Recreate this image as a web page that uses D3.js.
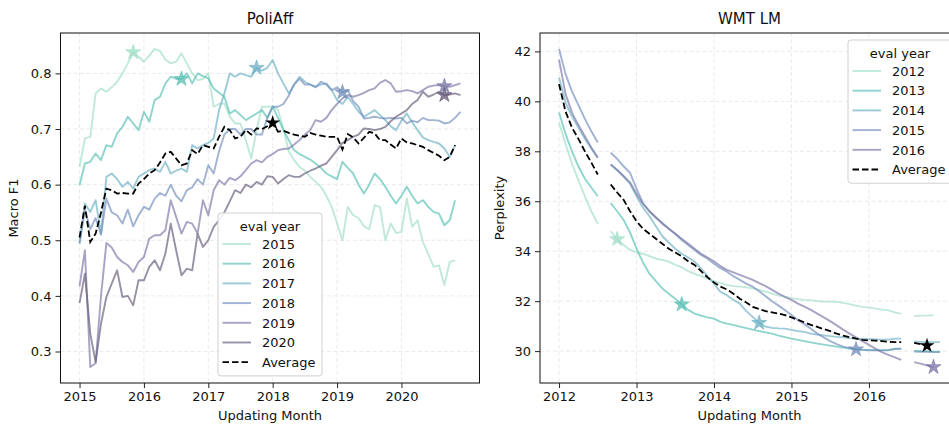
<!DOCTYPE html>
<html>
<head>
<meta charset="utf-8">
<script src="https://cdn.jsdelivr.net/npm/d3@7"></script>
<style>
	body { margin: 0; background: #fff; }
	svg { display: block; font-family: "DejaVu Sans", sans-serif; }
</style>
</head>
<body>
<div id="chart"></div>
<script>
// ---- PoliAff: macro F1 per updating month, Jan 2015 .. Dec 2020 ----
const poliStart = 2015;
const poliYears = ["2015", "2016", "2017", "2018", "2019", "2020"];
const poliTicks = [2015, 2016, 2017, 2018, 2019, 2020];
const poliYTicks = [0.3, 0.4, 0.5, 0.6, 0.7, 0.8];

const f1_2015 = [
	0.632, 0.683, 0.686, 0.764, 0.773, 0.767, 0.775, 0.785, 0.800, 0.818, 0.838, 0.830,
	0.821, 0.832, 0.844, 0.840, 0.825, 0.818, 0.821, 0.836, 0.818, 0.800, 0.788, 0.790,
	0.800, 0.740, 0.745, 0.746, 0.722, 0.710, 0.710, 0.680, 0.647, 0.698, 0.740, 0.740,
	0.741, 0.734, 0.700, 0.660, 0.644, 0.632, 0.625, 0.614, 0.605, 0.596, 0.580, 0.560,
	0.530, 0.500, 0.560, 0.545, 0.540, 0.525, 0.520, 0.563, 0.560, 0.500, 0.530, 0.513,
	0.515, 0.575, 0.524, 0.536, 0.497, 0.475, 0.452, 0.455, 0.419, 0.461, 0.464, null];
const f1_2016 = [
	0.599, 0.638, 0.641, 0.656, 0.644, 0.671, 0.668, 0.692, 0.704, 0.722, 0.710, 0.698,
	0.731, 0.713, 0.752, 0.758, 0.782, 0.794, 0.790, 0.790, 0.800, 0.782, 0.800, 0.795,
	0.791, 0.773, 0.765, 0.758, 0.728, 0.734, 0.725, 0.716, 0.722, 0.728, 0.734, 0.720,
	0.740, 0.720, 0.698, 0.680, 0.662, 0.655, 0.650, 0.645, 0.638, 0.630, 0.620, 0.615,
	0.610, 0.641, 0.630, 0.620, 0.600, 0.584, 0.600, 0.620, 0.610, 0.596, 0.580, 0.566,
	0.580, 0.596, 0.580, 0.566, 0.572, 0.560, 0.551, 0.548, 0.527, 0.536, 0.572, null];
const f1_2017 = [
	0.494, 0.566, 0.551, 0.572, 0.512, 0.614, 0.620, 0.610, 0.596, 0.605, 0.593, 0.614,
	0.620, 0.626, 0.629, 0.623, 0.641, 0.620, 0.625, 0.629, 0.623, 0.671, 0.665, 0.671,
	0.675, 0.683, 0.734, 0.764, 0.800, 0.794, 0.800, 0.797, 0.794, 0.810, 0.805, 0.810,
	0.824, 0.800, 0.782, 0.764, 0.780, 0.794, 0.785, 0.780, 0.776, 0.780, 0.782, 0.770,
	0.752, 0.745, 0.758, 0.745, 0.731, 0.722, 0.728, 0.734, 0.725, 0.716, 0.705, 0.698,
	0.715, 0.728, 0.712, 0.698, 0.685, 0.680, 0.677, 0.674, 0.665, 0.650, 0.671, null];
const f1_2018 = [
	0.495, 0.555, 0.520, 0.540, 0.510, 0.575, 0.550, 0.545, 0.530, 0.555, 0.525, 0.545,
	0.560, 0.555, 0.575, 0.585, 0.580, 0.600, 0.580, 0.570, 0.590, 0.595, 0.610, 0.600,
	0.635, 0.620, 0.660, 0.690, 0.700, 0.700, 0.690, 0.700, 0.700, 0.690, 0.690, 0.720,
	0.740, 0.740, 0.745, 0.760, 0.780, 0.790, 0.780, 0.780, 0.775, 0.785, 0.780, 0.770,
	0.775, 0.766, 0.770, 0.750, 0.740, 0.719, 0.720, 0.722, 0.720, 0.719, 0.720, 0.719,
	0.720, 0.710, 0.715, 0.712, 0.720, 0.716, 0.716, 0.715, 0.710, 0.712, 0.720, 0.731];
const f1_2019 = [
	0.417, 0.482, 0.272, 0.279, 0.400, 0.495, 0.487, 0.470, 0.461, 0.455, 0.443, 0.461,
	0.470, 0.503, 0.509, 0.509, 0.518, 0.572, 0.542, 0.512, 0.533, 0.530, 0.512, 0.572,
	0.545, 0.590, 0.608, 0.600, 0.612, 0.608, 0.615, 0.626, 0.638, 0.644, 0.640, 0.650,
	0.655, 0.662, 0.664, 0.665, 0.672, 0.680, 0.690, 0.698, 0.716, 0.713, 0.720, 0.734,
	0.745, 0.755, 0.761, 0.758, 0.761, 0.765, 0.770, 0.773, 0.783, 0.788, 0.782, 0.767,
	0.768, 0.770, 0.768, 0.764, 0.770, 0.776, 0.778, 0.779, 0.777, 0.776, 0.779, 0.782];
const f1_2020 = [
	0.387, 0.440, 0.332, 0.281, 0.350, 0.398, 0.422, 0.446, 0.398, 0.400, 0.383, 0.428,
	0.428, 0.452, 0.464, 0.446, 0.476, 0.530, 0.482, 0.437, 0.449, 0.446, 0.512, 0.488,
	0.500, 0.524, 0.536, 0.550, 0.570, 0.590, 0.585, 0.600, 0.595, 0.605, 0.600, 0.615,
	0.614, 0.602, 0.610, 0.617, 0.614, 0.614, 0.620, 0.625, 0.629, 0.634, 0.638, 0.650,
	0.662, 0.675, 0.680, 0.686, 0.690, 0.701, 0.700, 0.698, 0.700, 0.704, 0.714, 0.722,
	0.728, 0.734, 0.745, 0.752, 0.767, 0.758, 0.762, 0.767, 0.761, 0.762, 0.764, 0.761];
const f1_avg = [
	0.505, 0.562, 0.497, 0.512, 0.550, 0.593, 0.590, 0.584, 0.585, 0.584, 0.584, 0.602,
	0.610, 0.620, 0.626, 0.640, 0.656, 0.659, 0.647, 0.635, 0.638, 0.662, 0.655, 0.671,
	0.668, 0.665, 0.686, 0.704, 0.698, 0.683, 0.686, 0.698, 0.690, 0.701, 0.700, 0.705,
	0.711, 0.695, 0.697, 0.693, 0.690, 0.688, 0.686, 0.693, 0.690, 0.688, 0.686, 0.686,
	0.686, 0.663, 0.691, 0.685, 0.674, 0.684, 0.695, 0.692, 0.680, 0.680, 0.672, 0.665,
	0.683, 0.676, 0.674, 0.671, 0.668, 0.662, 0.657, 0.652, 0.644, 0.650, 0.671, null];
// month index of the starred point in each series (last one = Average)
const poliStars = [10, 19, 33, 49, 68, 68, 36];

// ---- WMT LM: perplexity per updating month, Jan 2012 .. Dec 2016 ----
const wmtStart = 2012;
const wmtYears = ["2012", "2013", "2014", "2015", "2016"];
const wmtTicks = [2012, 2013, 2014, 2015, 2016];
const wmtYTicks = [30, 32, 34, 36, 38, 40, 42];

const ppl_2012 = [39.15, 38.3, 37.5, 36.85, 36.2, 35.6, 35.1, null,
	34.8, 34.48, 34.25, 34.05, 33.95, 33.9, 33.8, 33.7, 33.65, 33.58, 33.45, 33.35,
	33.2, 33.09, 33.0, 32.9, 32.8, 32.72, 32.65, 32.6, 32.58, 32.55, 32.51, 32.45,
	32.38, 32.3, 32.22, 32.17, 32.12, 32.08, 32.05, 32.04, 32.0, 31.98, 31.98, 31.97,
	31.93, 31.88, 31.82, 31.77, 31.75, 31.7, 31.66, 31.63, 31.55, 31.5, null,
	31.4, 31.42, 31.42, 31.44, null];
const ppl_2013 = [39.55, 38.7, 38.0, 37.4, 36.9, 36.55, 36.2, null,
	35.93, 35.6, 35.25, 34.75, 34.1, 33.55, 33.1, 32.8, 32.51, 32.3, 32.1, 31.87,
	31.65, 31.5, 31.42, 31.35, 31.3, 31.17, 31.1, 31.05, 30.98, 30.92, 30.86, 30.8,
	30.75, 30.7, 30.62, 30.56, 30.5, 30.45, 30.4, 30.35, 30.3, 30.26, 30.22, 30.18,
	30.14, 30.1, 30.08, 30.06, 30.05, 30.04, 30.03, 30.03, 30.1, 30.1, null,
	30.02, 30.0, 30.0, 29.98, 29.98];
const ppl_2014 = [40.96, 39.95, 39.4, 38.95, 38.5, 38.1, 37.74, null,
	37.47, 37.25, 37.0, 36.7, 36.2, 35.75, 35.4, 35.0, 34.6, 34.35, 34.1, 33.9,
	33.75, 33.58, 33.3, 33.0, 32.7, 32.37, 32.24, 32.05, 31.9, 31.6, 31.37, 31.13,
	30.98, 30.93, 30.91, 30.9, 30.85, 30.8, 30.77, 30.7, 30.66, 30.63, 30.6, 30.57,
	30.55, 30.52, 30.5, 30.49, 30.48, 30.47, 30.46, 30.46, 30.5, 30.5, null,
	30.38, 30.37, 30.36, 30.36, 30.36];
const ppl_2015 = [42.1, 41.1, 40.4, 39.85, 39.3, 38.8, 38.35, null,
	37.94, 37.7, 37.4, 37.14, 36.5, 35.93, 35.6, 35.35, 35.13, 34.9, 34.7, 34.45,
	34.25, 34.05, 33.85, 33.7, 33.5, 33.32, 33.18, 33.0, 32.85, 32.7, 32.58, 32.4,
	32.2, 32.0, 31.82, 31.64, 31.45, 31.25, 31.08, 30.9, 30.7, 30.55, 30.4, 30.28,
	30.18, 30.12, 30.07, 30.05, 30.03, 30.03, 30.03, 30.05, 30.08, 30.1, null,
	29.98, 29.97, 29.97, 29.96, 29.96];
const ppl_2016 = [41.67, 40.3, 39.55, 39.05, 38.6, 38.15, 37.74, null,
	37.47, 37.25, 37.0, 36.75, 36.3, 35.9, 35.6, 35.35, 35.1, 34.9, 34.7, 34.5,
	34.3, 34.1, 33.9, 33.75, 33.6, 33.4, 33.25, 33.15, 33.05, 32.95, 32.85, 32.72,
	32.6, 32.45, 32.3, 32.17, 32.05, 31.9, 31.78, 31.65, 31.5, 31.35, 31.2, 31.03,
	30.86, 30.7, 30.55, 30.4, 30.25, 30.1, 29.96, 29.85, 29.75, 29.65, null,
	29.56, 29.5, 29.43, 29.36, null];
const ppl_avg = [40.69, 39.6, 38.95, 38.5, 38.0, 37.55, 37.07, null,
	36.67, 36.35, 36.06, 35.6, 35.2, 34.9, 34.7, 34.5, 34.3, 34.1, 33.95, 33.8,
	33.6, 33.45, 33.2, 32.95, 32.75, 32.58, 32.47, 32.3, 32.1, 31.95, 31.77, 31.68,
	31.6, 31.55, 31.5, 31.44, 31.35, 31.25, 31.15, 31.05, 30.97, 30.88, 30.8, 30.7,
	30.62, 30.56, 30.5, 30.45, 30.43, 30.42, 30.4, 30.37, 30.36, 30.36, null,
	30.33, 30.28, 30.22, null, null];
const wmtStars = [9, 19, 31, 46, 58, 57];

// eval-year colours (shared by both panels)
const palette = ["#a0dec6", "#54bfb3", "#6aafc4", "#6f8cba", "#7a74a6", "#635877"];
const lineAlpha = 0.66;

const W = 949, H = 426;
const svg = d3.select("#chart").append("svg").attr("width", W).attr("height", H);

const drawPanel = cfg => {
	const g = svg.append("g");
	const n = cfg.series[0].length;
	const months = d3.range(n).map(i => cfg.start + i / 12);
	const allVals = cfg.series.concat([cfg.avg]).flat().filter(v => v != null);

	// matplotlib-style 5% margins
	const xPad = (months[n - 1] - months[0]) * 0.05;
	const x = d3.scaleLinear()
		.domain([months[0] - xPad, months[n - 1] + xPad])
		.range([cfg.left, cfg.right]);
	const [lo, hi] = d3.extent(allVals);
	const yPad = (hi - lo) * 0.05;
	const y = d3.scaleLinear()
		.domain([lo - yPad, hi + yPad])
		.range([cfg.bottom, cfg.top]);

	// grid
	const grid = g.append("g").attr("stroke", "#e6e6e6").attr("stroke-width", 0.8)
		.attr("stroke-dasharray", "4,2.5");
	grid.selectAll(".gx").data(cfg.xTicks).enter().append("line")
		.attr("x1", d => x(d)).attr("x2", d => x(d))
		.attr("y1", cfg.top).attr("y2", cfg.bottom);
	grid.selectAll(".gy").data(cfg.yTicks).enter().append("line")
		.attr("y1", d => y(d)).attr("y2", d => y(d))
		.attr("x1", cfg.left).attr("x2", cfg.right);

	const line = d3.line()
		.defined(d => d != null)
		.x((d, i) => x(months[i]))
		.y(d => y(d));

	cfg.series.forEach((s, k) => {
		g.append("path")
			.attr("d", line(s))
			.attr("fill", "none")
			.attr("stroke", palette[k])
			.attr("stroke-opacity", lineAlpha)
			.attr("stroke-width", 1.9)
			.attr("stroke-linejoin", "round");
	});
	g.append("path")
		.attr("d", line(cfg.avg))
		.attr("fill", "none")
		.attr("stroke", "#000")
		.attr("stroke-width", 1.8)
		.attr("stroke-dasharray", "6.5,3");

	// stars
	const star = d3.symbol().type(d3.symbolStar).size(70);
	cfg.series.forEach((s, k) => {
		const i = cfg.stars[k];
		g.append("path")
			.attr("d", star())
			.attr("transform", `translate(${x(months[i])},${y(s[i])})`)
			.attr("fill", palette[k])
			.attr("fill-opacity", 0.75)
			.attr("stroke", palette[k])
			.attr("stroke-opacity", 0.75)
			.attr("stroke-width", 0.8);
	});
	const ia = cfg.stars[cfg.series.length];
	g.append("path")
		.attr("d", star())
		.attr("transform", `translate(${x(months[ia])},${y(cfg.avg[ia])})`)
		.attr("fill", "#000");

	// axes
	const xAxisG = g.append("g")
		.attr("transform", `translate(0,${cfg.bottom})`)
		.call(d3.axisBottom(x).tickValues(cfg.xTicks).tickFormat(d3.format("d"))
			.tickSize(5).tickPadding(4));
	const yAxisG = g.append("g")
		.attr("transform", `translate(${cfg.left},0)`)
		.call(d3.axisLeft(y).tickValues(cfg.yTicks).tickFormat(cfg.yFormat)
			.tickSize(5).tickPadding(4));
	[xAxisG, yAxisG].forEach(a => {
		a.selectAll(".domain").remove();
		a.selectAll("text").attr("font-size", 13).attr("fill", "#111")
			.attr("font-family", "DejaVu Sans, sans-serif");
		a.selectAll("line").attr("stroke", "#222");
	});

	// frame
	g.append("rect")
		.attr("x", cfg.left).attr("y", cfg.top)
		.attr("width", cfg.right - cfg.left).attr("height", cfg.bottom - cfg.top)
		.attr("fill", "none").attr("stroke", "#111").attr("stroke-width", 1);

	const midX = (cfg.left + cfg.right) / 2;
	g.append("text").attr("x", midX).attr("y", 24).attr("text-anchor", "middle")
		.attr("font-size", 15).attr("fill", "#111").text(cfg.title);
	g.append("text").attr("x", midX).attr("y", 420).attr("text-anchor", "middle")
		.attr("font-size", 13).attr("fill", "#111").text("Updating Month");
	g.append("text")
		.attr("transform", `translate(${cfg.yLabelX},${(cfg.top + cfg.bottom) / 2}) rotate(-90)`)
		.attr("text-anchor", "middle").attr("font-size", 13).attr("fill", "#111")
		.text(cfg.yLabel);

	// legend
	const L = cfg.legend;
	const labels = cfg.names.concat(["Average"]);
	const rowH = 19.7;
	const lg = g.append("g");
	lg.append("rect")
		.attr("x", L.x).attr("y", L.y).attr("rx", 3)
		.attr("width", L.w).attr("height", 25 + labels.length * rowH)
		.attr("fill", "#fff").attr("fill-opacity", 0.85)
		.attr("stroke", "#d0d0d0").attr("stroke-width", 1);
	lg.append("text").attr("x", L.x + L.w / 2).attr("y", L.y + 17.5)
		.attr("text-anchor", "middle").attr("font-size", 13).attr("fill", "#111")
		.text("eval year");
	labels.forEach((name, k) => {
		const cy = L.y + 31 + k * rowH;
		const isAvg = k === cfg.names.length;
		lg.append("line")
			.attr("x1", L.x + 4.5).attr("x2", L.x + 33)
			.attr("y1", cy).attr("y2", cy)
			.attr("stroke", isAvg ? "#000" : palette[k])
			.attr("stroke-opacity", isAvg ? 1 : lineAlpha)
			.attr("stroke-width", isAvg ? 1.8 : 1.9)
			.attr("stroke-dasharray", isAvg ? "6.5,3" : null);
		lg.append("text")
			.attr("x", L.x + 44).attr("y", cy + 4.7)
			.attr("font-size", 13).attr("fill", "#111")
			.text(name);
	});
};

drawPanel({
	title: "PoliAff", yLabel: "Macro F1", yLabelX: 18,
	start: poliStart, names: poliYears,
	series: [f1_2015, f1_2016, f1_2017, f1_2018, f1_2019, f1_2020],
	avg: f1_avg, stars: poliStars,
	xTicks: poliTicks, yTicks: poliYTicks, yFormat: d3.format(".1f"),
	left: 60.5, right: 479.5, top: 33, bottom: 383,
	legend: { x: 218, y: 213, w: 104 }
});

drawPanel({
	title: "WMT LM", yLabel: "Perplexity", yLabelX: 504,
	start: wmtStart, names: wmtYears,
	series: [ppl_2012, ppl_2013, ppl_2014, ppl_2015, ppl_2016],
	avg: ppl_avg, stars: wmtStars,
	xTicks: wmtTicks, yTicks: wmtYTicks, yFormat: d3.format("d"),
	left: 540, right: 959, top: 33, bottom: 383,
	legend: { x: 848, y: 40, w: 104 }
});
</script>
</body>
</html>
